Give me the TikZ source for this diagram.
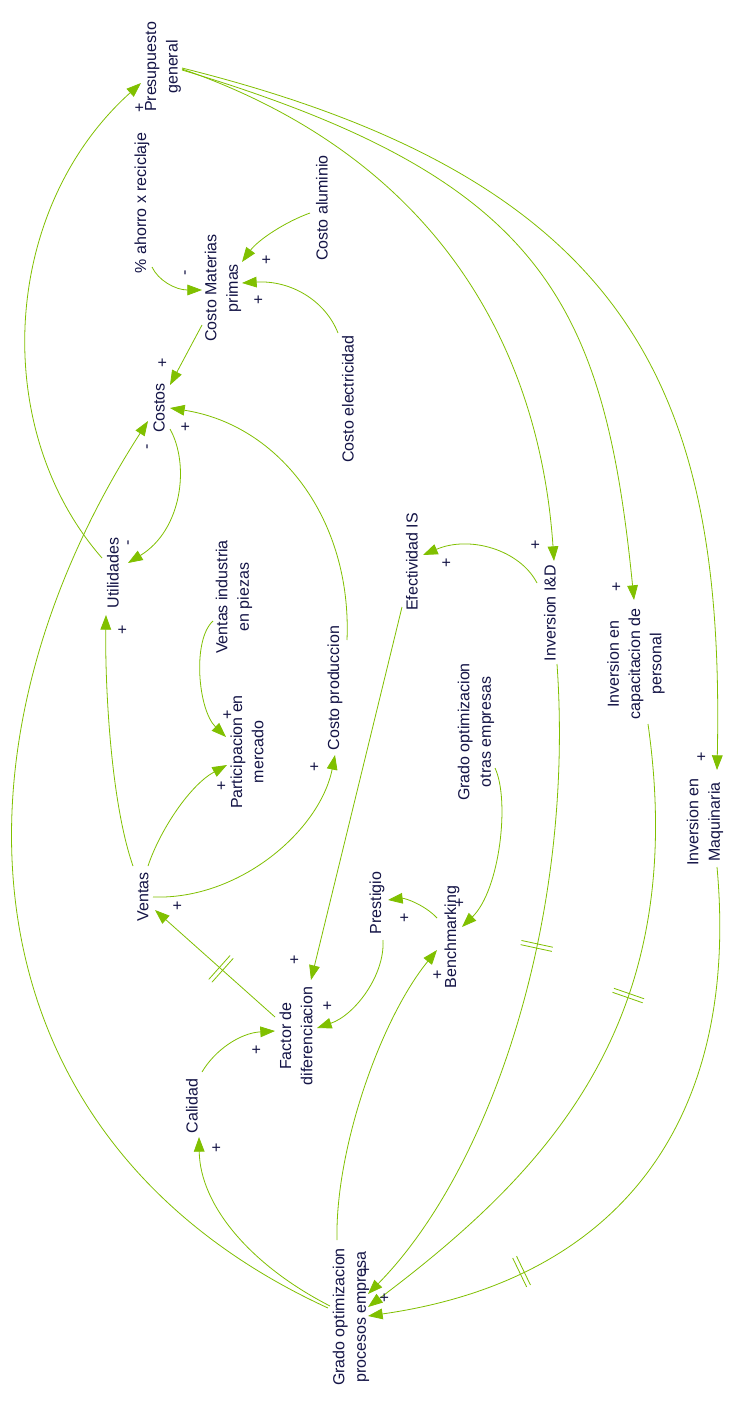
\documentclass[tikz,border=0pt]{standalone}
\usepackage{fontspec}
\setmainfont{Liberation Sans}
\usetikzlibrary{arrows.meta,calc,decorations.markings}
\definecolor{lnk}{RGB}{128,192,0}
\definecolor{txtc}{RGB}{20,20,70}
\tikzset{
  lbl/.style={rotate=90, align=center, text=txtc, font=\fontsize{12pt}{16pt}\selectfont, inner sep=0pt},
  sgn/.style={rotate=90, text=txtc, font=\fontsize{12pt}{14pt}\selectfont, inner sep=0pt},
  link/.style={draw=lnk, line width=0.6pt, -{Triangle[length=11pt,width=8pt]}},
  delaymark/.style={postaction={decorate}, decoration={markings, mark=at position #1 with {\draw[lnk, line width=0.6pt, -] (-1.6pt,-12pt) -- (-1.6pt,12pt) (1.6pt,-12pt) -- (1.6pt,12pt);}}},
}
\begin{document}
\begin{tikzpicture}[x=0.75pt, y=-0.75pt]
\fill[white] (0,0) rectangle (747,1405);
\useasboundingbox (0,0) rectangle (747,1405);
% nodes
\node[lbl] (pres) at (163,67) {Presupuesto\\general};
\node[lbl] (ahorro) at (142,203) {\% ahorro x reciclaje};
\node[lbl] (alum) at (322,208) {Costo aluminio};
\node[lbl] (cmp) at (223,288) {Costo Materias\\primas};
\node[lbl] (costos) at (159,408) {Costos};
\node[lbl] (elec) at (348,399) {Costo electricidad};
\node[lbl] (util) at (113,573) {Utilidades};
\node[lbl] (vip) at (234,597) {Ventas industria\\en piezas};
\node[lbl] (cprod) at (335,688) {Costo produccion};
\node[lbl] (efis) at (412,562) {Efectividad IS};
\node[lbl] (iid) at (550,613) {Inversion I\&D};
\node[lbl] (icap) at (636,664) {Inversion en\\capacitacion de\\personal};
\node[lbl] (imaq) at (705,822) {Inversion en\\Maquinaria};
\node[lbl] (gotras) at (476,732) {Grado optimizacion\\otras empresas};
\node[lbl] (part) at (247,752) {Participacion en\\mercado};
\node[lbl] (ventas) at (143,897) {Ventas};
\node[lbl] (prest) at (377,903) {Prestigio};
\node[lbl] (bench) at (452,937) {Benchmarking};
\node[lbl] (factor) at (296,1036) {Factor de\\diferenciacion};
\node[lbl] (calidad) at (192,1106) {Calidad};
\node[lbl] (gproc) at (351,1317) {Grado optimizacion\\procesos empresa};
% links
\draw[link] ($(util)+(-11,-15)$) .. controls (-10,430) and (0,210) .. ($(pres)+(-22,16)$);
\draw[link] ($(ahorro)+(10,64)$) .. controls (158,280) and (175,290) .. ($(cmp)+(-21,2)$);
\draw[link] ($(alum)+(-12,5)$) .. controls (285,222) and (258,240) .. ($(cmp)+(19,-26)$);
\draw[link] ($(elec)+(-10,-66)$) .. controls (325,300) and (290,280) .. ($(cmp)+(19,-5)$);
\draw[link] ($(cmp)+(-21,37)$) -- ($(costos)+(11,-23)$);
\draw[link] ($(cprod)+(12,-48)$) .. controls (352,520) and (280,425) .. ($(costos)+(11,0)$);
\draw[link] ($(costos)+(11,21)$) .. controls (190,465) and (182,530) .. ($(util)+(15,-10)$);
\draw[link] ($(ventas)+(-10,-31)$) .. controls (110,800) and (105,680) .. ($(util)+(-7,42)$);
\draw[link] ($(ventas)+(5,-31)$) .. controls (160,830) and (190,785) .. ($(part)+(-20,13)$);
\draw[link] ($(vip)+(-21,24)$) .. controls (192,640) and (198,710) .. ($(part)+(-21,-15)$);
\draw[link] ($(ventas)+(10,0)$) .. controls (240,900) and (320,830) .. ($(cprod)+(0,67)$);
\draw[link] ($(efis)+(-10,45)$) -- ($(factor)+(15,-56)$);
\draw[link, delaymark=0.45] ($(factor)+(-21,-19)$) -- ($(ventas)+(12,13)$);
\draw[link] ($(prest)+(6,37)$) .. controls (385,975) and (355,1015) .. ($(factor)+(21,-8)$);
\draw[link] ($(calidad)+(10,-34)$) .. controls (215,1050) and (240,1033) .. ($(factor)+(-21,-5)$);
\draw[link] ($(bench)+(-15,-19)$) .. controls (425,905) and (405,898) .. ($(prest)+(11,-3)$);
\draw[link] ($(gotras)+(19,36)$) .. controls (510,800) and (500,890) .. ($(bench)+(10,-10)$);
\draw[link] ($(gproc)+(-14,-77)$) .. controls (335,1150) and (380,1020) .. ($(bench)+(-15,13)$);
\draw[link] ($(gproc)+(-21,-11)$) .. controls (250,1265) and (200,1205) .. ($(calidad)+(7,31)$);
\draw[link] ($(gproc)+(-23,-9)$) .. controls (-36,1141) and (-68,757) .. ($(costos)+(-11,13)$);
\draw[link] ($(pres)+(19,2)$) .. controls (432,156) and (539,341) .. ($(iid)+(4,-52)$);
\draw[link] ($(pres)+(19,3)$) .. controls (542,178) and (604,300) .. ($(icap)+(-2,-64)$);
\draw[link] ($(pres)+(19,1)$) .. controls (632,180) and (725,390) .. ($(imaq)+(12,-52)$);
\draw[link] ($(iid)+(-13,-30)$) .. controls (520,550) and (470,535) .. ($(efis)+(11,-7)$);
\draw[link, delaymark=0.42] ($(iid)+(7,51)$) .. controls (575,920) and (490,1170) .. ($(gproc)+(17,-23)$);
\draw[link, delaymark=0.4] ($(icap)+(12,60)$) .. controls (690,1020) and (550,1170) .. ($(gproc)+(17,-10)$);
\draw[link, delaymark=0.75] ($(imaq)+(12,45)$) .. controls (740,1120) and (620,1280) .. ($(gproc)+(17,-1)$);
% polarity signs
\node[sgn] (s1) at (140,108) {+};
\node[sgn] (s2) at (187,273) {-};
\node[sgn] (s3) at (267,260) {+};
\node[sgn] (s4) at (259,300) {+};
\node[sgn] (s5) at (163,363) {+};
\node[sgn] (s6) at (186,427) {+};
\node[sgn] (s7) at (149,447) {-};
\node[sgn] (s8) at (130,543) {-};
\node[sgn] (s9) at (123,630) {+};
\node[sgn] (s10) at (222,786) {+};
\node[sgn] (s11) at (228,715) {+};
\node[sgn] (s12) at (315,767) {+};
\node[sgn] (s13) at (295,960) {+};
\node[sgn] (s14) at (178,906) {+};
\node[sgn] (s15) at (328,1006) {+};
\node[sgn] (s16) at (257,1050) {+};
\node[sgn] (s17) at (405,918) {+};
\node[sgn] (s18) at (460,903) {+};
\node[sgn] (s19) at (438,975) {+};
\node[sgn] (s20) at (217,1148) {+};
\node[sgn] (s21) at (536,545) {+};
\node[sgn] (s22) at (617,587) {+};
\node[sgn] (s23) at (702,757) {+};
\node[sgn] (s24) at (447,563) {+};
\node[sgn] (s25) at (366,1270) {+};
\node[sgn] (s26) at (385,1298) {+};
\end{tikzpicture}
\end{document}
